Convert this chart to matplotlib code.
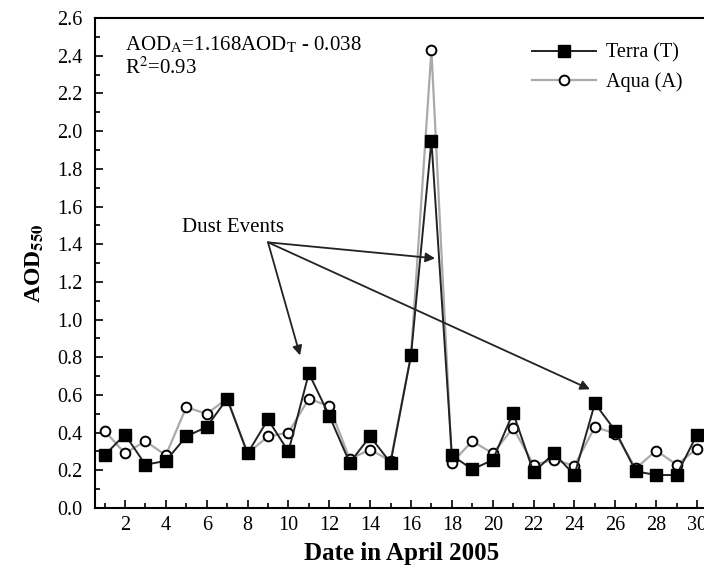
import matplotlib.pyplot as plt
from matplotlib.ticker import MultipleLocator

plt.rcParams['font.family'] = ['Liberation Serif', 'DejaVu Serif']
plt.rcParams['mathtext.fontset'] = 'stix'

days = list(range(1, 31))
terra = [0.28, 0.39, 0.23, 0.25, 0.38, 0.43, 0.58, 0.29, 0.47, 0.30,
         0.715, 0.49, 0.24, 0.38, 0.24, 0.81, 1.95, 0.28, 0.205, 0.255,
         0.505, 0.19, 0.29, 0.175, 0.555, 0.41, 0.195, 0.175, 0.175, 0.39]
aqua = [0.41, 0.29, 0.355, 0.28, 0.535, 0.50, 0.58, 0.29, 0.38, 0.40,
        0.58, 0.54, 0.26, 0.31, 0.25, 0.81, 2.43, 0.24, 0.355, 0.29,
        0.425, 0.23, 0.255, 0.225, 0.43, 0.395, 0.21, 0.305, 0.23, 0.315]

# arrow targets for the dust events
dust_xy = (9.0, 1.41)
dust_targets = [(10.57, 0.81), (17.18, 1.325), (24.76, 0.63)]

fig = plt.figure(figsize=(7.04, 5.75), dpi=100)
ax = fig.add_axes([0.135, 0.1165, 0.8696, 0.852])

ax.plot(days, aqua, color='#aaaaaa', lw=1.6, marker='o', markersize=7,
        markerfacecolor='white', markeredgecolor='black', markeredgewidth=1.4,
        label='Aqua (A)', zorder=2)
ax.plot(days, terra, color='#222222', lw=1.4, marker='s', markersize=8,
        markerfacecolor='black', markeredgecolor='black',
        label='Terra (T)', zorder=3)

for tx, ty in dust_targets:
    ax.annotate('', xy=(tx, ty), xytext=dust_xy,
                arrowprops=dict(arrowstyle='-|>', color='#222222', lw=1.3,
                                mutation_scale=14, shrinkA=0, shrinkB=0))
ax.text(7.29, 1.49, 'Dust Events', fontsize=15, ha='center', va='center')

ax.text(0.049, 0.945, r'AOD$_\mathrm{A}$=1.168AOD$_\mathrm{T}$ - 0.038',
        transform=ax.transAxes, fontsize=15, va='center')
ax.text(0.049, 0.897, r'R$^\mathrm{2}$=0.93', transform=ax.transAxes,
        fontsize=15, va='center')

handles, labels = ax.get_legend_handles_labels()
ax.legend(handles[::-1], labels[::-1], loc='upper right',
          bbox_to_anchor=(0.99, 0.985), frameon=False, fontsize=14.5,
          handlelength=3.2, handletextpad=0.5, labelspacing=0.45)

ax.set_xlim(0.535, 30.5)
ax.set_ylim(0, 2.6)
ax.xaxis.set_major_locator(MultipleLocator(2))
ax.xaxis.set_minor_locator(MultipleLocator(1))
ax.yaxis.set_major_locator(MultipleLocator(0.2))
ax.yaxis.set_minor_locator(MultipleLocator(0.1))
ax.yaxis.set_major_formatter(plt.FormatStrFormatter('%.1f'))
ax.tick_params(which='both', direction='in', labelsize=14.5, width=1.2)
ax.tick_params(which='major', length=6)
ax.tick_params(which='minor', length=3.5)
ax.tick_params(axis='x', pad=6)
ax.tick_params(axis='y', pad=9)
for sp in ax.spines.values():
    sp.set_linewidth(1.5)
ax.spines['right'].set_visible(False)

ax.set_xlabel('Date in April 2005', fontsize=18, fontweight='bold', labelpad=5)
ax.set_ylabel(r'AOD$_\mathbf{550}$', fontsize=17, fontweight='bold', labelpad=8)

fig.savefig('out.png', dpi=100)
